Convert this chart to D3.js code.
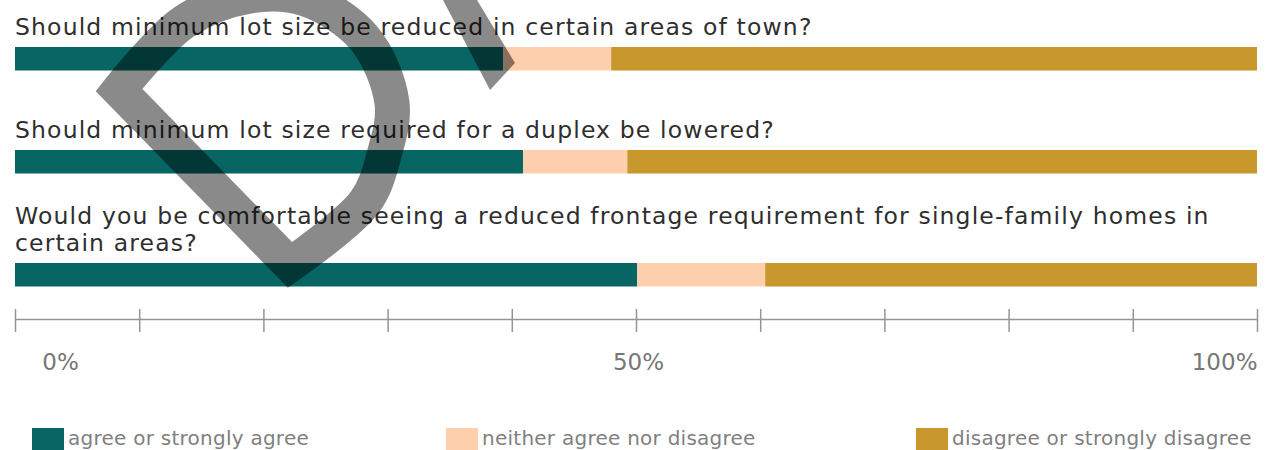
<!DOCTYPE html>
<html>
<head>
<meta charset="utf-8">
<script src="https://cdn.jsdelivr.net/npm/d3@7"></script>
<style>
  html, body { margin: 0; padding: 0; background: #fff; }
  svg { display: block; }
</style>
</head>
<body>
<svg id="chart" width="1270" height="450"></svg>
<script>
// ---------- data ----------
const categories = ["agree or strongly agree", "neither agree nor disagree", "disagree or strongly disagree"];
const questions = [
  ["Should minimum lot size be reduced in certain areas of town?"],
  ["Should minimum lot size required for a duplex be lowered?"],
  ["Would you be comfortable seeing a reduced frontage requirement for single-family homes in", "certain areas?"]
];
const agree    = [39.3, 40.9, 50.1];
const neither  = [8.7, 8.4, 10.3];
const disagree = [52.0, 50.7, 39.6];
const tickValues = [0, 10, 20, 30, 40, 50, 60, 70, 80, 90, 100];
const tickLabels = {0: "0%", 50: "50%", 100: "100%"};

// ---------- style / layout ----------
const colors = ["#076663", "#fdcfad", "#c9982c"];
const svg = d3.select("#chart");
const FONT = "'DejaVu Sans', sans-serif";

const x = d3.scaleLinear().domain([0, 100]).range([15, 1257]);

// rows: base step plus extra room for multi-line titles
const rowStep = 103, extraLine = 10, firstBarTop = 47, barH = 23.5;
const barTops = [];
let acc = 0;
questions.forEach((q, i) => {
  acc += (q.length - 1) * extraLine;
  barTops.push(firstBarTop + i * rowStep + acc);
});

const rows = questions.map((q, i) => ({ q, vals: [agree[i], neither[i], disagree[i]], top: barTops[i] }));

const gRows = svg.append("g");
rows.forEach(r => {
  const n = r.q.length;
  r.q.forEach((line, li) => {
    gRows.append("text")
      .attr("x", x(0))
      .attr("y", r.top - 12 - (n - 1 - li) * 27)
      .attr("font-family", FONT)
      .attr("font-size", 23.5)
      .attr("letter-spacing", 1.15)
      .attr("fill", "#2e2e2e")
      .text(line);
  });
  let cum = 0;
  r.vals.forEach((v, k) => {
    gRows.append("rect")
      .attr("x", x(cum))
      .attr("y", r.top)
      .attr("width", x(cum + v) - x(cum))
      .attr("height", barH)
      .attr("fill", colors[k]);
    cum += v;
  });
});

// axis
const axisY = 319;
const axis = d3.axisBottom(x)
  .tickValues(tickValues)
  .tickSize(13)
  .tickSizeOuter(0)
  .tickFormat(d => tickLabels[d] || "");
const gAxis = svg.append("g").attr("transform", `translate(0,${axisY})`).call(axis);
gAxis.select(".domain").attr("stroke", "#959595").attr("stroke-width", 1.5);
gAxis.selectAll(".tick line").attr("y1", -10).attr("y2", 13).attr("stroke", "#959595").attr("stroke-width", 1.5);
gAxis.selectAll(".tick text")
  .attr("y", 51)
  .attr("dy", 0)
  .attr("font-family", FONT)
  .attr("font-size", 23)
  .attr("fill", "#767676")
  .attr("text-anchor", d => d === 100 ? "end" : "middle")
  .attr("dx", d => d === 0 ? 45 : (d === 50 ? 2 : 0));

// legend
const legendX = [32, 446, 916];
const gLeg = svg.append("g");
categories.forEach((c, k) => {
  gLeg.append("rect").attr("x", legendX[k]).attr("y", 428).attr("width", 32).attr("height", 24).attr("fill", colors[k]);
  gLeg.append("text")
    .attr("x", legendX[k] + 36)
    .attr("y", 445)
    .attr("font-family", FONT)
    .attr("font-size", 20)
    .attr("letter-spacing", 0.25)
    .attr("fill", "#7f7f7f")
    .text(c);
});

// watermark ("D" stamp fragment)
const wm = svg.append("g").attr("fill", "none").attr("stroke", "#000").attr("stroke-opacity", 0.46);
const bowl = [[119, 90], [184, 22], [250, -4], [305, -1], [364, 38], [392, 103], [384, 155], [365, 202], [290, 265]];
const line = d3.line().curve(d3.curveCatmullRom.alpha(0.5));
wm.append("path")
  .attr("d", line(bowl) + "Z")
  .attr("stroke-width", 35)
  .attr("stroke-linejoin", "miter")
  .attr("stroke-miterlimit", 10);
svg.append("path")
  .attr("d", "M443,0 L490,90 L515,63 L477,0 Z")
  .attr("fill", "#000")
  .attr("fill-opacity", 0.46);
</script>
</body>
</html>
